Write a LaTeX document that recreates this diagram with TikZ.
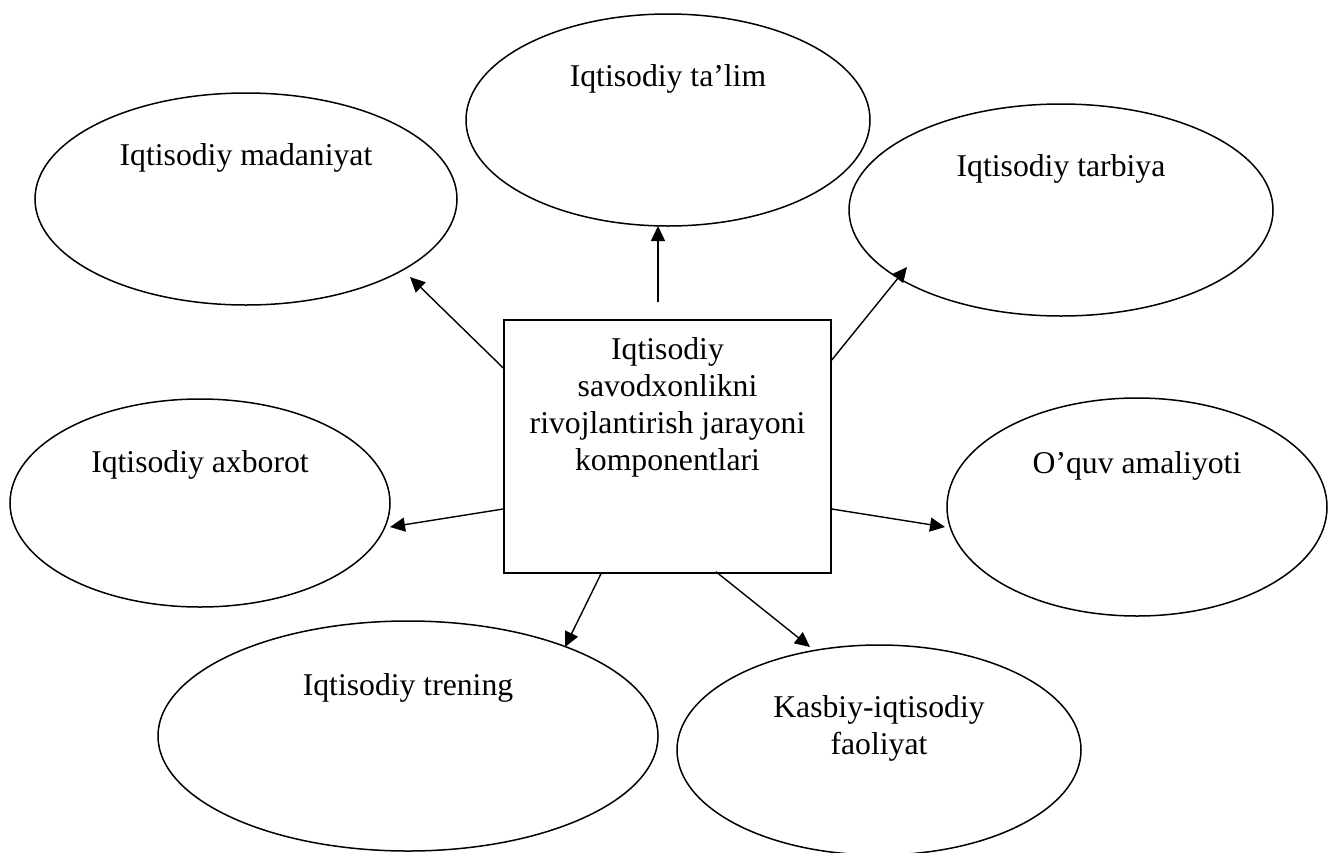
\documentclass[tikz,border=0pt]{standalone}
\usepackage{fontspec}
\setmainfont{Liberation Serif}
\usetikzlibrary{calc,arrows.meta,shapes.geometric}

\begin{document}
\begin{tikzpicture}[
  x=1pt, y=-1pt,
  every node/.style={font=\fontsize{31.7}{37}\selectfont},
  comp/.style={ellipse, draw, line width=1.5pt, inner sep=0pt, align=center, text height=24pt, text depth=92pt},
  hub/.style={rectangle, draw, line width=1.5pt, inner sep=0pt, align=center, minimum width=327pt, minimum height=253pt, text height=71pt, text depth=24pt},
  arr/.style={line width=1.4pt, -{Triangle[length=15pt, width=14pt]}}
]
  \useasboundingbox (0,0) rectangle (1328,852);
  % central box
  \node[hub] (hub) at (667.5,446.5) {Iqtisodiy\\savodxonlikni\\rivojlantirish jarayoni\\komponentlari};
  % components
  \node[comp, minimum width=404pt, minimum height=212pt] (talim) at (668,120) {Iqtisodiy ta’lim};
  \node[comp, minimum width=422pt, minimum height=212pt] (madaniyat) at (246,199) {Iqtisodiy madaniyat};
  \node[comp, minimum width=424pt, minimum height=212pt] (tarbiya) at (1061,210) {Iqtisodiy tarbiya};
  \node[comp, minimum width=380pt, minimum height=208pt, text depth=86pt] (axborot) at (200,503) {Iqtisodiy axborot};
  \node[comp, minimum width=380pt, minimum height=218pt] (amaliyot) at (1137,507) {O’quv amaliyoti};
  \node[comp, minimum width=500pt, minimum height=230pt, text depth=106pt] (trening) at (408,736) {Iqtisodiy trening};
  \node[comp, minimum width=404pt, minimum height=210pt, text depth=16pt] (kasbiy) at (879,750) {Kasbiy-iqtisodiy\\faoliyat};

  \draw[arr] ($(hub.north)+(-9.5,-17)$) -- ($(talim)+(-10,106)$);
  \draw[arr] ($(hub.west)+(0,-78.5)$) -- ($(madaniyat)+(164,78)$);
  \draw[arr] ($(hub.east)+(0,-86.5)$) -- ($(tarbiya)+(-154,57)$);
  \draw[arr] ($(hub.west)+(0,62.5)$) -- ($(axborot)+(190,24)$);
  \draw[arr] ($(hub.east)+(0,62.5)$) -- ($(amaliyot)+(-192,20)$);
  \draw[arr] ($(hub.south)+(-66.5,0)$) -- ($(trening)+(157,-89)$);
  \draw[arr] ($(hub.south)+(48.5,-2)$) -- ($(kasbiy)+(-69,-103)$);
\end{tikzpicture}
\end{document}
